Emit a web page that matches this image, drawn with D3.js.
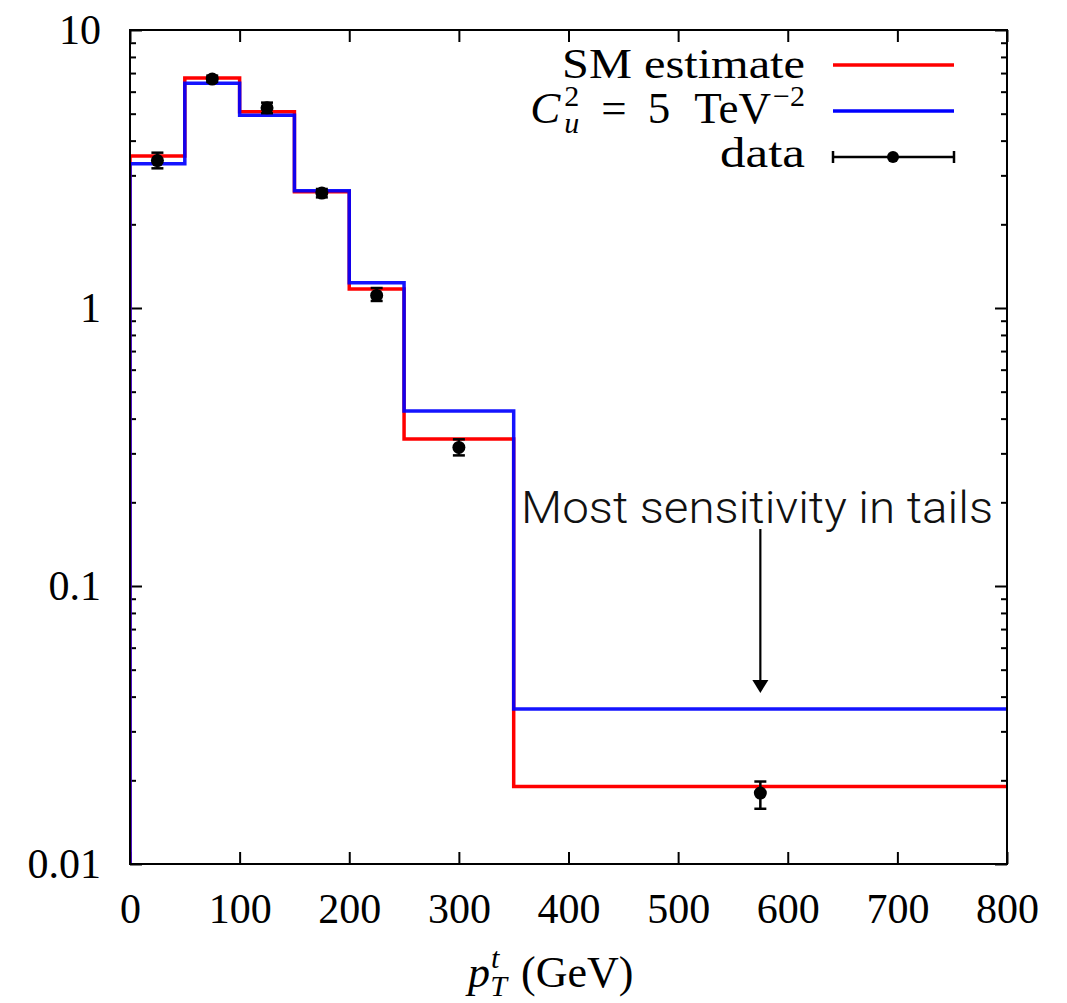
<!DOCTYPE html>
<html>
<head>
<meta charset="utf-8">
<script src="https://cdn.jsdelivr.net/npm/d3@7"></script>
<style>
  html, body { margin: 0; padding: 0; background: #fff; }
  svg { display: block; }
</style>
</head>
<body>
<svg id="chart" width="1067" height="1003"></svg>
<script>
// ---- data ----
const binEdges = [0, 50, 100, 150, 200, 250, 350, 800];
const smValues = [3.52, 6.72, 5.08, 2.62, 1.17, 0.338, 0.019];
const bsmValues = [3.30, 6.43, 4.94, 2.64, 1.233, 0.426, 0.0361];
const dataX = [25, 75, 125, 175, 225, 300, 575];
const dataY = [3.39, 6.66, 5.25, 2.59, 1.11, 0.315, 0.018];
const dataLo = [3.18, 6.50, 5.02, 2.50, 1.06, 0.295, 0.0158];
const dataHi = [3.62, 6.85, 5.48, 2.68, 1.18, 0.337, 0.0198];
const xTicks = [0, 100, 200, 300, 400, 500, 600, 700, 800];
const yMajorTicks = [0.01, 0.1, 1, 10];
const yTickLabels = ["0.01", "0.1", "1", "10"];

// ---- layout ----
const SERIF = "'Liberation Serif', 'DejaVu Serif', serif";
const L = 130, R = 1007, T = 30, B = 864;
const svg = d3.select("#chart");
const x = d3.scaleLinear().domain([0, 800]).range([L, R]);
const y = d3.scaleLog().domain([0.01, 10]).range([B, T]);

const yMinor = [];
[0.01, 0.1, 1].forEach(d => { for (let k = 2; k <= 9; k++) yMinor.push(d * k); });

const fontSize = 42;

// axes
const gx = svg.append("g").attr("transform", `translate(0,${B})`)
  .call(d3.axisBottom(x).tickValues(xTicks).tickSizeInner(-12).tickSizeOuter(0).tickPadding(29).tickFormat(d3.format("d")));
const gxTop = svg.append("g").attr("transform", `translate(0,${T})`)
  .call(d3.axisTop(x).tickValues(xTicks).tickSizeInner(-12).tickSizeOuter(0).tickFormat(""));
const gyMaj = svg.append("g").attr("transform", `translate(${L},0)`)
  .call(d3.axisLeft(y).tickValues(yMajorTicks).tickSizeInner(-12).tickSizeOuter(0).tickPadding(29)
    .tickFormat((d, i) => yTickLabels[i]));
const gyMin = svg.append("g").attr("transform", `translate(${L},0)`)
  .call(d3.axisLeft(y).tickValues(yMinor).tickSizeInner(-6).tickSizeOuter(0).tickFormat(""));
const gyMajR = svg.append("g").attr("transform", `translate(${R},0)`)
  .call(d3.axisRight(y).tickValues(yMajorTicks).tickSizeInner(-12).tickSizeOuter(0).tickFormat(""));
const gyMinR = svg.append("g").attr("transform", `translate(${R},0)`)
  .call(d3.axisRight(y).tickValues(yMinor).tickSizeInner(-6).tickSizeOuter(0).tickFormat(""));

[gx, gxTop, gyMaj, gyMin, gyMajR, gyMinR].forEach(g => {
  g.attr("font-family", SERIF).attr("font-size", fontSize);
  g.select(".domain").remove();
  g.selectAll(".tick line").attr("stroke", "#000").attr("stroke-width", 2);
  g.selectAll("text").attr("font-family", SERIF).attr("font-size", fontSize).attr("fill", "#000");
});

// clip
svg.append("defs").append("clipPath").attr("id", "clip")
  .append("rect").attr("x", L).attr("y", T).attr("width", R - L).attr("height", B - T);

// histogram step lines
function stepPoints(vals) {
  const pts = [[binEdges[0], 0.01]];
  vals.forEach((v, i) => {
    pts.push([binEdges[i], v]);
    pts.push([binEdges[i + 1], v]);
  });
  return pts;
}
const line = d3.line().x(d => x(d[0])).y(d => y(d[1]));
const plot = svg.append("g").attr("clip-path", "url(#clip)");
plot.append("path").attr("d", line(stepPoints(smValues)))
  .attr("fill", "none").attr("stroke", "#ff0000").attr("stroke-width", 3.5);
plot.append("path").attr("d", line(stepPoints(bsmValues)))
  .attr("fill", "none").attr("stroke", "#0000ff").attr("stroke-width", 3.5).attr("stroke-opacity", 0.92);

// data points
const pts = svg.append("g");
dataX.forEach((xv, i) => {
  const cx = x(xv);
  pts.append("line").attr("x1", cx).attr("x2", cx).attr("y1", y(dataLo[i])).attr("y2", y(dataHi[i]))
    .attr("stroke", "#000").attr("stroke-width", 2.5);
  [dataLo[i], dataHi[i]].forEach(v => {
    pts.append("line").attr("x1", cx - 6).attr("x2", cx + 6).attr("y1", y(v)).attr("y2", y(v))
      .attr("stroke", "#000").attr("stroke-width", 2.5);
  });
  pts.append("circle").attr("cx", cx).attr("cy", y(dataY[i])).attr("r", 6.5).attr("fill", "#000");
});

// frame
svg.append("rect").attr("x", L).attr("y", T).attr("width", R - L).attr("height", B - T)
  .attr("fill", "none").attr("stroke", "#000").attr("stroke-width", 2);

// legend
const legTextX = 805, legL = 833, legR = 954;
svg.append("text").attr("font-family", SERIF).attr("x", legTextX).attr("y", 78)
  .attr("text-anchor", "end").attr("font-size", fontSize).attr("textLength", 243)
  .attr("lengthAdjust", "spacingAndGlyphs").text("SM estimate");
svg.append("line").attr("x1", legL).attr("x2", legR).attr("y1", 65).attr("y2", 65)
  .attr("stroke", "#ff0000").attr("stroke-width", 3.5);

const t2 = svg.append("text").attr("font-family", SERIF).attr("x", legTextX).attr("y", 123)
  .attr("text-anchor", "end").attr("font-size", 45);
t2.append("tspan").attr("font-style", "italic").text("C");
t2.append("tspan").attr("font-size", 30).attr("dy", -17).attr("dx", 4).text("2");
t2.append("tspan").attr("font-size", 30).attr("font-style", "italic").attr("dx", -15).attr("dy", 27).text("u");
t2.append("tspan").attr("dy", -10).attr("dx", 22).text("=");
t2.append("tspan").attr("dx", 21).text("5");
t2.append("tspan").attr("dx", 24).text("TeV");
t2.append("tspan").attr("font-size", 30).attr("dy", -17).attr("dx", 2).text("\u22122");
svg.append("line").attr("x1", legL).attr("x2", legR).attr("y1", 111).attr("y2", 111)
  .attr("stroke", "#0000ff").attr("stroke-width", 3.5);

svg.append("text").attr("font-family", SERIF).attr("x", legTextX).attr("y", 167)
  .attr("text-anchor", "end").attr("font-size", fontSize).attr("textLength", 85)
  .attr("lengthAdjust", "spacingAndGlyphs").text("data");
svg.append("line").attr("x1", legL).attr("x2", legR).attr("y1", 157).attr("y2", 157)
  .attr("stroke", "#000").attr("stroke-width", 2.5);
[legL, legR].forEach(xx => svg.append("line").attr("x1", xx).attr("x2", xx).attr("y1", 151).attr("y2", 163)
  .attr("stroke", "#000").attr("stroke-width", 2.5));
svg.append("circle").attr("cx", 893).attr("cy", 157).attr("r", 6).attr("fill", "#000");

// x axis title
const xt = svg.append("text").attr("font-family", SERIF).attr("x", 468).attr("y", 987)
  .attr("font-size", 44);
xt.append("tspan").attr("font-style", "italic").text("p");
xt.append("tspan").attr("font-style", "italic").attr("font-size", 30).attr("dy", -19).attr("dx", 1).text("t");
xt.append("tspan").attr("font-style", "italic").attr("font-size", 30).attr("dy", 28).attr("dx", -9).text("T");
xt.append("tspan").attr("dy", -9).attr("dx", 14).text("(GeV)");

// annotation
svg.append("text").attr("x", 521).attr("y", 523)
  .attr("font-family", "Roboto, 'Liberation Sans', Arial, sans-serif").attr("font-weight", 300)
  .attr("font-size", 45).attr("textLength", 472).attr("lengthAdjust", "spacingAndGlyphs")
  .attr("fill", "#111").text("Most sensitivity in tails");
const ax = x(575);
svg.append("line").attr("x1", ax).attr("x2", ax).attr("y1", 529).attr("y2", 682)
  .attr("stroke", "#000").attr("stroke-width", 2.2);
svg.append("path").attr("d", `M${ax - 8},${680} L${ax + 8},${680} L${ax},${693} Z`).attr("fill", "#000");
</script>
</body>
</html>
